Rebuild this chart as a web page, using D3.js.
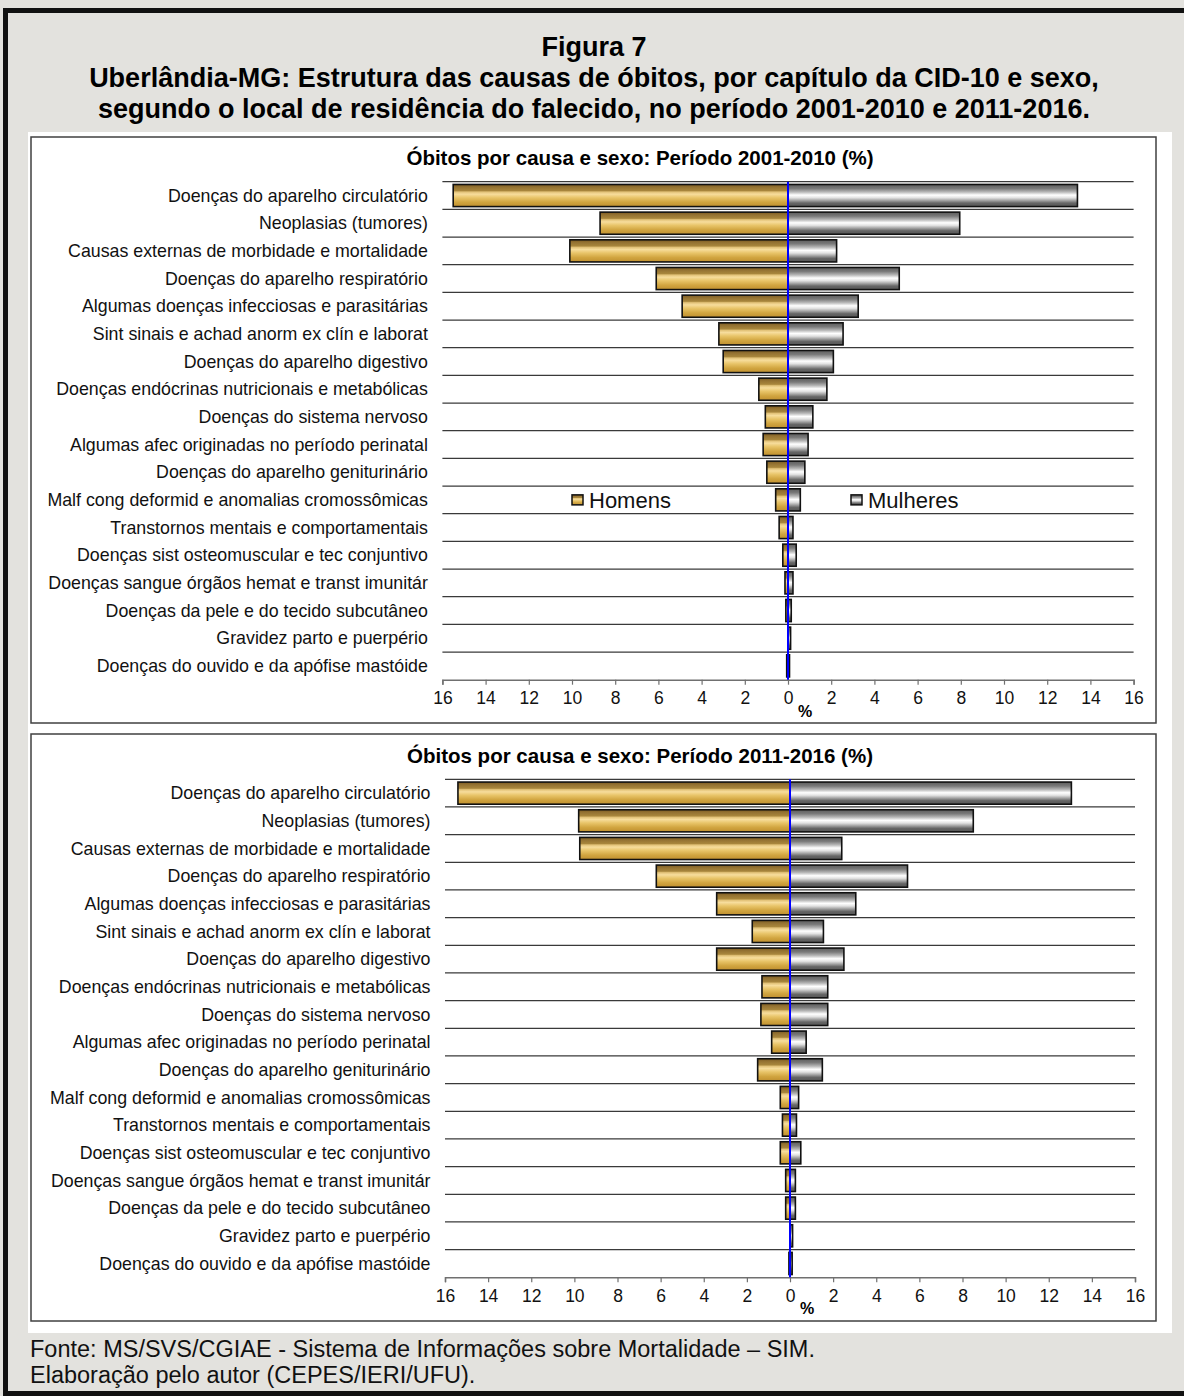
<!DOCTYPE html>
<html>
<head>
<meta charset="utf-8">
<script src="https://cdn.jsdelivr.net/npm/d3@7"></script>
<style>
  html, body { margin: 0; padding: 0; background: #fff; }
  svg text { font-family: "Liberation Sans", Arial, Helvetica, sans-serif; }
</style>
</head>
<body>
<svg id="chart" width="1184" height="1396"></svg>
<script>
// ---------- DATA ----------
const categories = [
  "Doenças do aparelho circulatório",
  "Neoplasias (tumores)",
  "Causas externas de morbidade e mortalidade",
  "Doenças do aparelho respiratório",
  "Algumas doenças infecciosas e parasitárias",
  "Sint sinais e achad anorm ex clín e laborat",
  "Doenças do aparelho digestivo",
  "Doenças endócrinas nutricionais e metabólicas",
  "Doenças do sistema nervoso",
  "Algumas afec originadas no período perinatal",
  "Doenças do aparelho geniturinário",
  "Malf cong deformid e anomalias cromossômicas",
  "Transtornos mentais e comportamentais",
  "Doenças sist osteomuscular e tec conjuntivo",
  "Doenças sangue órgãos hemat e transt imunitár",
  "Doenças da pele e do tecido subcutâneo",
  "Gravidez parto e puerpério",
  "Doenças do ouvido e da apófise mastóide"
];
const homens2001 = [15.5, 8.7, 10.1, 6.1, 4.9, 3.2, 3.0, 1.35, 1.05, 1.15, 0.98, 0.57, 0.41, 0.24, 0.14, 0.1, 0.0, 0.06];
const mulheres2001 = [13.4, 7.95, 2.25, 5.15, 3.25, 2.55, 2.1, 1.8, 1.15, 0.93, 0.78, 0.57, 0.23, 0.38, 0.23, 0.15, 0.12, 0.07];
const homens2011 = [15.4, 9.8, 9.75, 6.2, 3.4, 1.75, 3.4, 1.3, 1.35, 0.85, 1.5, 0.45, 0.35, 0.45, 0.2, 0.2, 0.0, 0.05];
const mulheres2011 = [13.05, 8.5, 2.4, 5.45, 3.05, 1.55, 2.5, 1.75, 1.75, 0.75, 1.5, 0.4, 0.3, 0.5, 0.25, 0.25, 0.12, 0.1];
const tickValues = [-16, -14, -12, -10, -8, -6, -4, -2, 0, 2, 4, 6, 8, 10, 12, 14, 16];
const seriesNames = ["Homens", "Mulheres"];
const figTitle = "Figura 7";
const figSubtitle = [
  "Uberlândia-MG: Estrutura das causas de óbitos, por capítulo da CID-10 e sexo,",
  "segundo o local de residência do falecido, no período 2001-2010 e 2011-2016."
];
const chartTitles = ["Óbitos por causa e sexo: Período 2001-2010 (%)", "Óbitos por causa e sexo: Período 2011-2016 (%)"];
const footer = [
  "Fonte: MS/SVS/CGIAE - Sistema de Informações sobre Mortalidade – SIM.",
  "Elaboração pelo autor (CEPES/IERI/UFU)."
];

// ---------- DRAW ----------
const svg = d3.select("#chart");
const defs = svg.append("defs");

function addGrad(id, stops) {
  const g = defs.append("linearGradient").attr("id", id)
    .attr("x1", 0).attr("y1", 0).attr("x2", 0).attr("y2", 1);
  stops.forEach(s => g.append("stop").attr("offset", s[0]).attr("stop-color", s[1]));
}
addGrad("gMen", [
  [0, "#7a5a22"], [0.12, "#947232"], [0.28, "#a8863c"], [0.34, "#e2c278"],
  [0.44, "#f7dd9c"], [0.6, "#e8c468"], [0.8, "#d1a540"], [1, "#c09030"]
]);
addGrad("gWomen", [
  [0, "#5c5c5c"], [0.18, "#7a7a7a"], [0.34, "#b8b8b8"], [0.48, "#ffffff"],
  [0.6, "#e2e2e2"], [0.74, "#9a9a9a"], [0.84, "#666666"], [1, "#555555"]
]);

// background
svg.append("rect").attr("x", 0).attr("y", 0).attr("width", 1184).attr("height", 1396).attr("fill", "#e3e2de");
svg.append("rect").attr("x", 5.5).attr("y", 10.5).attr("width", 1220).attr("height", 1383)
  .attr("fill", "none").attr("stroke", "#111").attr("stroke-width", 5);
svg.append("rect").attr("x", 28).attr("y", 132).attr("width", 1144).attr("height", 1201).attr("fill", "#fff");

// titles
svg.append("text").attr("x", 594).attr("y", 56).attr("text-anchor", "middle")
  .attr("font-size", 27).attr("font-weight", "bold").text(figTitle);
figSubtitle.forEach((t, i) => {
  svg.append("text").attr("x", 594).attr("y", 87 + i * 31).attr("text-anchor", "middle")
    .attr("font-size", 27).attr("font-weight", "bold").text(t);
});

// footer
footer.forEach((t, i) => {
  svg.append("text").attr("x", 30).attr("y", 1357 + i * 26)
    .attr("font-size", 23.5).attr("fill", "#111").text(t);
});

function drawChart(cfg) {
  const g = svg.append("g");
  g.append("rect").attr("x", cfg.box[0]).attr("y", cfg.box[1]).attr("width", cfg.box[2]).attr("height", cfg.box[3])
    .attr("fill", "#fff").attr("stroke", "#404040").attr("stroke-width", 1.5);

  g.append("text").attr("x", cfg.titleX).attr("y", cfg.titleY).attr("text-anchor", "middle")
    .attr("font-size", 20.5).attr("font-weight", "bold").text(cfg.title);

  const x = d3.scaleLinear().domain([-16, 16]).range([cfg.left, cfg.right]);
  const y = d3.scaleBand().domain(categories).range([cfg.top, cfg.bottom]).paddingInner(0.2).paddingOuter(0.1);
  const step = y.step();

  // gridlines
  const lines = categories.map((c, i) => cfg.top + i * step);
  g.selectAll(".grid").data(lines).enter().append("line")
    .attr("x1", cfg.left).attr("x2", cfg.right)
    .attr("y1", d => d).attr("y2", d => d)
    .attr("stroke", "#3a3a3a").attr("stroke-width", 1.3);

  // axis
  const axis = d3.axisBottom(x).tickValues(tickValues).tickFormat(d => Math.abs(d))
    .tickSize(5).tickSizeOuter(5).tickPadding(7);
  const ax = g.append("g").attr("transform", `translate(0,${cfg.bottom})`).call(axis);
  ax.select(".domain").attr("stroke", "#707070").attr("stroke-width", 1.5);
  ax.selectAll(".tick line").attr("stroke", "#707070").attr("stroke-width", 1.2);
  ax.selectAll(".tick text").attr("font-size", 17.5).attr("fill", "#111")
    .attr("font-family", "'Liberation Sans', Arial, sans-serif");
  g.append("text").attr("x", x(0) + 17).attr("y", cfg.bottom + 37).attr("text-anchor", "middle")
    .attr("font-size", 16).attr("font-weight", "bold").text("%");

  // category labels
  g.selectAll(".cat").data(categories).enter().append("text")
    .attr("x", cfg.left - 14.5).attr("y", d => y(d) + y.bandwidth() / 2)
    .attr("dy", "0.35em").attr("text-anchor", "end").attr("font-size", 17.8).attr("fill", "#111")
    .text(d => d);

  // bars
  g.selectAll(".men").data(categories).enter().append("rect")
    .attr("x", (d, i) => x(-cfg.men[i])).attr("y", d => y(d))
    .attr("width", (d, i) => x(0) - x(-cfg.men[i])).attr("height", y.bandwidth())
    .attr("fill", "url(#gMen)").attr("stroke", "#111").attr("stroke-width", 1.6);
  g.selectAll(".women").data(categories).enter().append("rect")
    .attr("x", x(0)).attr("y", d => y(d))
    .attr("width", (d, i) => x(cfg.women[i]) - x(0)).attr("height", y.bandwidth())
    .attr("fill", "url(#gWomen)").attr("stroke", "#111").attr("stroke-width", 1.6);

  // zero line
  g.append("line").attr("x1", x(0)).attr("x2", x(0)).attr("y1", cfg.top).attr("y2", cfg.bottom)
    .attr("stroke", "#0000ff").attr("stroke-width", 2);

  // legend
  if (cfg.legend) {
    const ly = y(categories[11]) + y.bandwidth() / 2;
    const items = [{ name: seriesNames[0], grad: "gMen", x: 572 }, { name: seriesNames[1], grad: "gWomen", x: 851 }];
    items.forEach(it => {
      g.append("rect").attr("x", it.x).attr("y", ly - 5).attr("width", 11).attr("height", 10)
        .attr("fill", `url(#${it.grad})`).attr("stroke", "#111").attr("stroke-width", 1.5);
      g.append("text").attr("x", it.x + 17).attr("y", ly).attr("dy", "0.36em")
        .attr("font-size", 22).attr("fill", "#111").text(it.name);
    });
  }
}

drawChart({
  box: [31, 137, 1125, 586], title: chartTitles[0], titleX: 640, titleY: 165,
  left: 442.4, right: 1133.6, top: 181.7, bottom: 679.7,
  men: homens2001, women: mulheres2001, legend: true
});
drawChart({
  box: [31, 734, 1125, 587], title: chartTitles[1], titleX: 640, titleY: 763,
  left: 445, right: 1135, top: 779.3, bottom: 1277.3,
  men: homens2011, women: mulheres2011, legend: false
});
</script>
</body>
</html>
